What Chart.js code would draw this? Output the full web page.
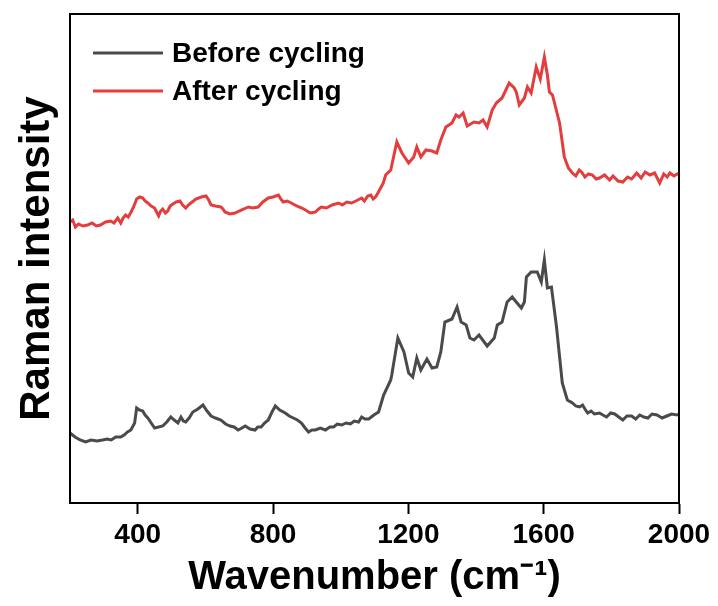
<!DOCTYPE html>
<html>
<head>
<meta charset="utf-8">
<script src="https://cdn.jsdelivr.net/npm/chart.js@4"></script>
<style>
    html, body { margin: 0; padding: 0; background: #fff; }
    #wrap { width: 718px; height: 606px; }
</style>
</head>
<body>
<div id="wrap"><canvas id="ramanChart" width="718" height="606"></canvas></div>
<script>
// Wavenumber (cm-1) and intensity (a.u.)
const beforeX = [200, 215, 230, 246, 262, 280, 296, 310, 322, 335, 350, 360, 370, 380, 391, 397, 405, 415, 422, 430,
    440, 450, 462, 474, 486, 498, 508, 519, 528, 535, 542, 552, 563, 578, 593, 605, 617, 630, 646, 660,
    673, 685, 697, 708, 718, 732, 747, 755, 765, 775, 786, 797, 807, 820, 836, 848, 860, 872, 884, 895,
    905, 915, 925, 940, 955, 968, 979, 990, 1003, 1016, 1029, 1040, 1053, 1062, 1072, 1083, 1098, 1112, 1120, 1127,
    1148, 1151, 1169, 1187, 1201, 1213, 1225, 1237, 1255, 1270, 1284, 1296, 1308, 1329, 1344, 1356, 1371, 1382, 1394, 1409,
    1433, 1454, 1463, 1477, 1492, 1507, 1519, 1534, 1543, 1549, 1563, 1581, 1593, 1602, 1611, 1623, 1638, 1655, 1670, 1685,
    1695, 1706, 1715, 1722, 1730, 1740, 1750, 1765, 1775, 1786, 1798, 1810, 1822, 1834, 1846, 1860, 1872, 1884, 1896, 1908,
    1920, 1935, 1950, 1964, 1978, 1994, 2000];
const beforeY = [70, 66, 63, 61, 63, 62, 63, 64, 63, 66, 66, 68, 71, 73, 80, 95, 93, 92, 88, 85,
    80, 75, 76, 77, 81, 86, 83, 80, 86, 82, 81, 85, 91, 94, 98, 92, 87, 85, 83, 79,
    77, 76, 73, 75, 77, 74, 73, 76, 76, 80, 83, 91, 97, 93, 90, 87, 85, 83, 80, 75,
    71, 73, 73, 75, 73, 76, 76, 79, 78, 80, 79, 82, 81, 86, 84, 84, 88, 91, 100, 108,
    123, 128, 165, 151, 130, 126, 145, 133, 144, 135, 136, 151, 181, 184, 196, 181, 178, 165, 163, 168,
    157, 165, 178, 181, 201, 206, 201, 195, 201, 226, 231, 231, 221, 243, 215, 216, 176, 120, 103, 100,
    97, 96, 98, 94, 90, 92, 89, 90, 88, 86, 90, 89, 86, 83, 87, 87, 84, 88, 86, 85,
    89, 88, 85, 87, 89, 88, 89];

const afterX = [200, 208, 216, 225, 238, 252, 265, 278, 290, 305, 320, 330, 341, 350, 357, 364, 372, 379, 388, 397,
    406, 415, 422, 430, 440, 450, 456, 462, 468, 474, 482, 489, 496, 504, 514, 525, 533, 542, 550, 557,
    565, 572, 588, 602, 610, 617, 630, 646, 652, 658, 672, 688, 700, 714, 727, 740, 756, 770, 786, 800,
    816, 823, 830, 842, 854, 870, 885, 896, 910, 925, 935, 943, 958, 975, 994, 1005, 1018, 1032, 1045, 1062,
    1070, 1080, 1089, 1096, 1103, 1110, 1118, 1126, 1133, 1148, 1166, 1181, 1201, 1216, 1225, 1237, 1252, 1270, 1284, 1296,
    1311, 1329, 1341, 1350, 1362, 1374, 1394, 1409, 1421, 1433, 1448, 1460, 1477, 1498, 1513, 1519, 1528, 1543, 1552, 1563,
    1578, 1590, 1602, 1611, 1617, 1626, 1647, 1661, 1673, 1685, 1695, 1705, 1712, 1722, 1732, 1744, 1755, 1765, 1780, 1795,
    1805, 1820, 1834, 1848, 1860, 1875, 1888, 1900, 1914, 1928, 1943, 1955, 1965, 1973, 1985, 2000];
const afterY = [281, 283, 276, 279, 277, 278, 280, 277, 278, 281, 282, 280, 285, 280, 285, 288, 286, 290, 296, 304,
    306, 305, 302, 300, 297, 295, 291, 287, 292, 294, 290, 292, 297, 299, 301, 302, 298, 295, 298, 300,
    302, 304, 306, 307, 303, 298, 297, 296, 294, 291, 289, 290, 292, 294, 296, 295, 296, 301, 305, 306,
    308, 304, 301, 302, 300, 297, 295, 293, 290, 291, 294, 296, 295, 298, 300, 298, 301, 300, 302, 305,
    302, 307, 308, 304, 306, 310, 315, 320, 328, 333, 361, 350, 340, 346, 356, 346, 353, 352, 350, 363,
    376, 380, 388, 386, 390, 377, 381, 380, 383, 376, 393, 400, 405, 420, 415, 411, 398, 405, 416, 410,
    436, 424, 446, 428, 411, 408, 380, 346, 335, 330, 327, 333, 331, 326, 329, 328, 324, 325, 328, 323,
    327, 322, 321, 326, 324, 330, 325, 331, 328, 330, 320, 329, 326, 330, 327, 330];

const xTicks = [400, 800, 1200, 1600, 2000];
const seriesNames = ['Before cycling', 'After cycling'];
const seriesColors = ['#4a4a4a', '#e43d3d'];

const FONT = "'Liberation Sans', Arial, sans-serif";

function toPoints(xs, ys) {
    return xs.map((x, i) => ({ x: x, y: ys[i] }));
}

// frame on top/right plus the inline legend
const framePlugin = {
    id: 'frame',
    afterDraw(chart) {
        const { ctx, chartArea: a } = chart;
        ctx.save();
        ctx.strokeStyle = '#000';
        ctx.lineWidth = 2;
        ctx.strokeRect(a.left, a.top, a.right - a.left, a.bottom - a.top);

        chart.data.datasets.forEach((ds, i) => {
            const y = a.top + 39 + i * 38;
            ctx.strokeStyle = ds.borderColor;
            ctx.lineWidth = 3;
            ctx.beginPath();
            ctx.moveTo(a.left + 23, y);
            ctx.lineTo(a.left + 93, y);
            ctx.stroke();
            ctx.fillStyle = '#000';
            ctx.font = 'bold 28px ' + FONT;
            ctx.textBaseline = 'middle';
            ctx.fillText(ds.label, a.left + 102, y + 1);
        });
        ctx.restore();
    }
};

const ctx = document.getElementById('ramanChart').getContext('2d');
new Chart(ctx, {
    type: 'line',
    data: {
        datasets: [
            {
                label: seriesNames[0],
                data: toPoints(beforeX, beforeY),
                borderColor: seriesColors[0],
                borderWidth: 3,
                pointRadius: 0,
                tension: 0,
                fill: false
            },
            {
                label: seriesNames[1],
                data: toPoints(afterX, afterY),
                borderColor: seriesColors[1],
                borderWidth: 3,
                pointRadius: 0,
                tension: 0,
                fill: false
            }
        ]
    },
    options: {
        responsive: false,
        animation: false,
        layout: { padding: { top: 14, right: 39, left: 0, bottom: 0 } },
        plugins: {
            legend: { display: false },
            tooltip: { enabled: false }
        },
        scales: {
            x: {
                type: 'linear',
                min: 200,
                max: 2000,
                afterBuildTicks: scale => { scale.ticks = xTicks.map(v => ({ value: v })); },
                afterFit: scale => { scale.height = 103; },
                grid: {
                    display: true,
                    drawOnChartArea: false,
                    drawTicks: true,
                    tickLength: 11,
                    tickColor: '#000',
                    tickWidth: 2
                },
                border: { display: true, color: '#000', width: 2 },
                ticks: {
                    color: '#000',
                    padding: 4,
                    maxRotation: 0,
                    callback: value => String(value),
                    font: { family: FONT, size: 28, weight: 'bold' }
                },
                title: {
                    display: true,
                    text: 'Wavenumber (cm\u207B\u00B9)',
                    color: '#000',
                    padding: { top: 0, bottom: 4 },
                    font: { family: FONT, size: 40, weight: 'bold' }
                }
            },
            y: {
                min: 0,
                max: 489,
                afterFit: scale => { scale.width = 70; },
                grid: { display: false },
                border: { display: true, color: '#000', width: 2 },
                ticks: { display: false },
                title: {
                    display: true,
                    text: 'Raman intensity',
                    color: '#000',
                    padding: { top: 12, bottom: 0 },
                    font: { family: FONT, size: 42, weight: 'bold' }
                }
            }
        }
    },
    plugins: [framePlugin]
});
</script>
</body>
</html>
